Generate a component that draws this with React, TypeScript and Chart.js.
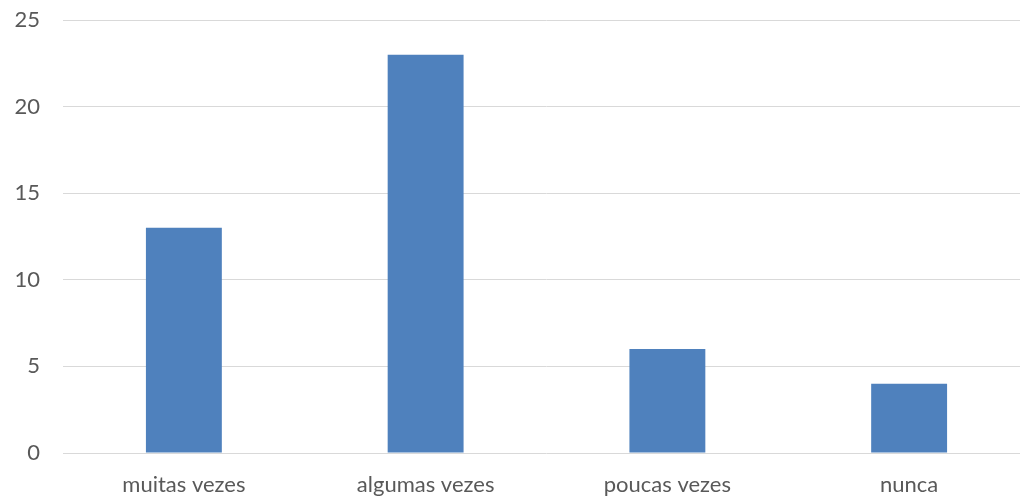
import React, { useEffect, useRef } from "react";
import { Chart, registerables } from "chart.js";

Chart.register(...registerables);

const categories = ["muitas vezes", "algumas vezes", "poucas vezes", "nunca"];
const values = [13, 23, 6, 4];
const yTicks = [0, 5, 10, 15, 20, 25];

export default function App() {
  const ref = useRef<HTMLCanvasElement | null>(null);
  useEffect(() => {
    if (!ref.current) return;
    const chart = new Chart(ref.current, {
      type: "bar",
      data: {
        labels: categories,
        datasets: [
          {
            data: values,
            backgroundColor: "#4F81BD",
            borderWidth: 0,
            categoryPercentage: 1,
            barPercentage: 0.314,
          },
        ],
      },
      options: {
        animation: false,
        responsive: false,
        maintainAspectRatio: false,
        layout: { padding: { top: 20, right: 0, left: 0, bottom: 0 } },
        plugins: { legend: { display: false }, tooltip: { enabled: false } },
        scales: {
          x: {
            grid: { display: false, drawTicks: false },
            border: { display: false },
            ticks: {
              color: "#595959",
              font: { family: "Lato", size: 22 },
              padding: 19,
              maxRotation: 0,
            },
            afterFit: (s: any) => {
              s.height = 43;
              s.paddingLeft = 0;
              s.paddingRight = 0;
            },
          },
          y: {
            min: 0,
            max: 25,
            afterBuildTicks: (s: any) => {
              s.ticks = yTicks.map((v) => ({ value: v }));
            },
            grid: { color: "#d9d9d9", lineWidth: 1, drawTicks: false },
            border: { display: false },
            ticks: {
              color: "#595959",
              font: { family: "Lato", size: 22 },
              padding: 23,
            },
            afterFit: (s: any) => {
              s.width = 63;
              s.paddingTop = 0;
              s.paddingBottom = 0;
            },
          },
        },
      },
    });
    return () => chart.destroy();
  }, []);
  return (
    <div
      style={{
        position: "fixed",
        left: 0,
        top: 0,
        width: 1020,
        height: 496,
        overflow: "hidden",
        background: "#fff",
      }}
    >
      <canvas ref={ref} width={1030} height={496} style={{ width: 1030, height: 496, display: "block" }} />
    </div>
  );
}
